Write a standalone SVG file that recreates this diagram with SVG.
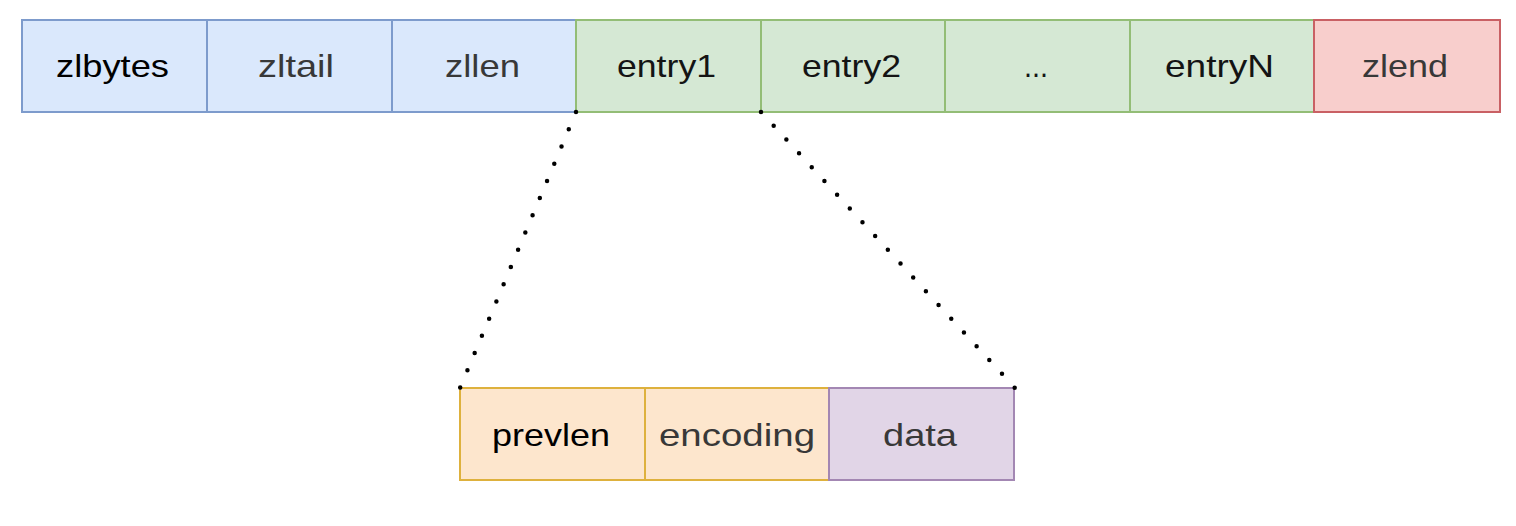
<svg xmlns="http://www.w3.org/2000/svg" width="1516" height="526" viewBox="0 0 1516 526">
<style>
.b{fill:#dae8fc;stroke:#7d9bcc;stroke-width:2}
.g{fill:#d5e8d4;stroke:#93bd76;stroke-width:2}
.r{fill:#f8cecc;stroke:#c96064;stroke-width:2}
.o{fill:#fde6cd;stroke:#deb13d;stroke-width:2}
.p{fill:#e1d5e7;stroke:#a387b3;stroke-width:2}
text{font-family:"Liberation Sans",Arial,sans-serif;font-size:32px;text-anchor:middle}
.k{fill:#000}
.d{fill:#141414}
.m{fill:#383838}
.dot{fill:none;stroke:#000;stroke-width:4.5;stroke-linecap:round}
</style>
<rect width="1516" height="526" fill="#fff"/>
<g id="zlbytes"><rect class="b" x="22" y="20" width="185" height="92"/><text class="k" x="112.5" y="77" textLength="113" lengthAdjust="spacingAndGlyphs">zlbytes</text></g>
<g id="zltail"><rect class="b" x="207" y="20" width="185" height="92"/><text class="m" x="296" y="77" textLength="76" lengthAdjust="spacingAndGlyphs">zltail</text></g>
<g id="zllen"><rect class="b" x="392" y="20" width="184" height="92"/><text class="m" x="482.5" y="77" textLength="75" lengthAdjust="spacingAndGlyphs">zllen</text></g>
<g id="entry1"><rect class="g" x="576" y="20" width="185" height="92"/><text class="d" x="666.5" y="77" textLength="99" lengthAdjust="spacingAndGlyphs">entry1</text></g>
<g id="entry2"><rect class="g" x="761" y="20" width="184" height="92"/><text class="d" x="851.5" y="77" textLength="99" lengthAdjust="spacingAndGlyphs">entry2</text></g>
<g id="ellipsis"><rect class="g" x="945" y="20" width="185" height="92"/><text class="d" x="1036" y="77" textLength="24" lengthAdjust="spacingAndGlyphs">...</text></g>
<g id="entryN"><rect class="g" x="1130" y="20" width="184" height="92"/><text class="d" x="1219.5" y="77" textLength="109" lengthAdjust="spacingAndGlyphs">entryN</text></g>
<g id="zlend"><rect class="r" x="1314" y="20" width="186" height="92"/><text class="m" x="1405" y="77" textLength="86" lengthAdjust="spacingAndGlyphs">zlend</text></g>
<g id="prevlen"><rect class="o" x="460" y="388" width="185" height="92"/><text class="k" x="551" y="446" textLength="118" lengthAdjust="spacingAndGlyphs">prevlen</text></g>
<g id="encoding"><rect class="o" x="645" y="388" width="184" height="92"/><text class="m" x="737" y="446" textLength="156" lengthAdjust="spacingAndGlyphs">encoding</text></g>
<g id="data"><rect class="p" x="829" y="388" width="185" height="92"/><text class="m" x="920" y="446" textLength="74" lengthAdjust="spacingAndGlyphs">data</text></g>
<g id="connectors">
<line class="dot" x1="576" y1="112" x2="460" y2="388" stroke-dasharray="0 18.68"/>
<line class="dot" x1="761" y1="112" x2="1015" y2="388" stroke-dasharray="0 18.73"/>
</g>
</svg>
